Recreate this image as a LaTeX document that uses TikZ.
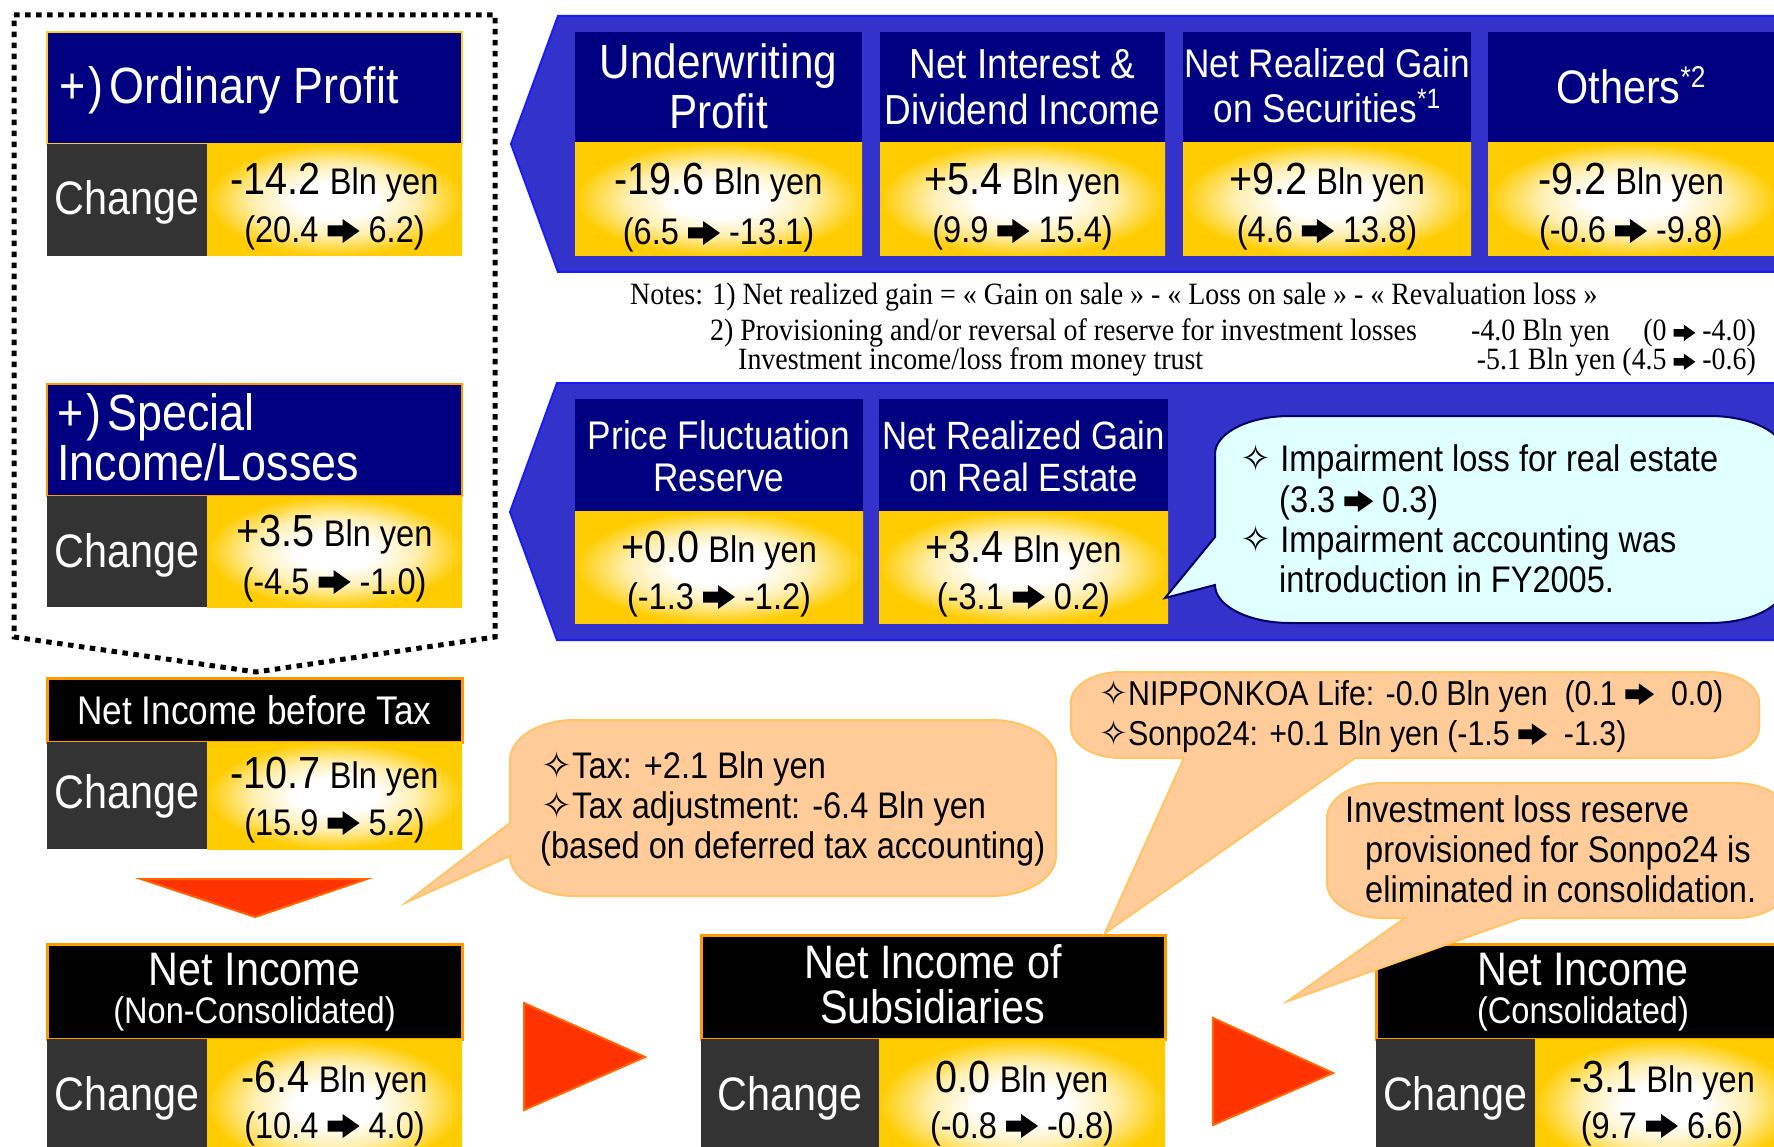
\documentclass[tikz,border=0pt]{standalone}
\usepackage{fontspec}
\usepackage{graphicx}
\setmainfont{Liberation Sans}[FakeStretch=0.88]
\newfontfamily\notefont{Liberation Serif}[FakeStretch=0.9]
\newfontfamily\symfont{DejaVu Sans}
\newcommand\setfs[1]{\fontsize{#1}{#1}\selectfont}
% heavy wide-headed arrow drawn as a small inline picture
\newcommand\arr[1][1]{\tikz[baseline=0pt,x=#1pt,y=#1pt]\fill[black] (0,6.5)--(15,6.5)--(15,0)--(32,12)--(15,24)--(15,17.5)--(0,17.5)--cycle;}
\newcommand\twinkle{{\symfont ✧}}
\newcommand\amount[1]{{\setfs{45}#1} {\setfs{37}Bln yen}}
\newcommand\sups[2]{\raisebox{0.36em}{\setfs{#1}#2}}

\definecolor{navy}{HTML}{000080}
\definecolor{pentblue}{HTML}{3333CC}
\definecolor{edgeblue}{HTML}{1A1AFF}
\definecolor{gold}{HTML}{FFCC00}
\definecolor{paleglow}{HTML}{FFEFB0}
\definecolor{charcoal}{HTML}{333333}
\definecolor{rimorange}{HTML}{FF9900}
\definecolor{rimgold}{HTML}{FFCC33}
\definecolor{peach}{HTML}{FFCC99}
\definecolor{peachrim}{HTML}{FFC466}
\definecolor{icecyan}{HTML}{E0FFFF}
\definecolor{cyanrim}{HTML}{000066}
\definecolor{flame}{HTML}{FF3300}
\definecolor{flamerim}{HTML}{FF6600}

\pgfdeclareradialshading{goldglow}{\pgfpointorigin}{color(0bp)=(white); color(8bp)=(white); color(16bp)=(paleglow); color(25bp)=(gold); color(50bp)=(gold)}

\tikzset{
  lbl/.style={inner sep=0pt, anchor=base},
  wlbl/.style={lbl, text=white},
  head/.style={wlbl, font=\setfs{#1}},
  chg/.style={wlbl, font=\setfs{47}},
  amt/.style={lbl, font=\setfs{37}},
  rng/.style={lbl, font=\setfs{37}},
  calltext/.style={lbl, anchor=base west, font=\setfs{37}},
  notetext/.style={lbl, anchor=base west, font=\notefont\setfs{31}},
  pent/.style={fill=pentblue, draw=edgeblue, line width=2pt},
  navyfill/.style={fill=navy},
  goldbox/.style={shading=goldglow},
  darkbox/.style={fill=charcoal},
  blackhead/.style={fill=black, draw=rimorange, line width=3pt},
  dotframe/.style={draw=black, line width=5pt, dash pattern=on 5.5pt off 5.5pt},
  peachcall/.style={fill=peach, draw=peachrim, line width=2pt},
  cyancall/.style={fill=icecyan, draw=cyanrim, line width=2pt},
  flamearrow/.style={fill=flame, draw=flamerim, line width=2pt, line join=miter}
}

\begin{document}
\begin{tikzpicture}[x=1pt,y=-1pt]
\useasboundingbox (0,0) rectangle (1774,1147);
\fill[white] (0,0) rectangle (1774,1147);
\clip (0,0) rectangle (1774,1147);

% dotted frame around the non-consolidated profit blocks
\draw[dotframe] (14,15) -- (495,15) -- (495,637) -- (256,672) -- (14,637) -- cycle;

% blue pentagons holding the breakdown items
\filldraw[pent] (511,144) -- (558,16) -- (1795,16) -- (1795,272) -- (558,272) -- cycle;
\filldraw[pent] (510,512) -- (557,383) -- (1795,383) -- (1795,640) -- (557,640) -- cycle;

% ---- left column ----
\filldraw[navyfill, draw=rimgold, line width=2pt] (47,32) rectangle (462,144);
\fill[darkbox] (47,144) rectangle (207,256);
\shade[goldbox] (207,144) rectangle (462,256);

\filldraw[navyfill, draw=rimorange, line width=2pt] (47,384) rectangle (462,496);
\fill[darkbox] (47,496) rectangle (207,607);
\shade[goldbox] (207,496) rectangle (462,607);

\filldraw[blackhead] (47,678) rectangle (462,742);
\fill[darkbox] (47,742) rectangle (207,849);
\shade[goldbox] (207,742) rectangle (462,849);

\filldraw[blackhead] (47,944) rectangle (462,1039);
\fill[darkbox] (47,1039) rectangle (207,1170);
\shade[goldbox] (207,1039) rectangle (462,1170);

% ---- top breakdown boxes ----
\fill[navyfill] (575,32) rectangle (862,143);
\shade[goldbox] (575,143) rectangle (862,256);
\fill[navyfill] (880,32) rectangle (1165,143);
\shade[goldbox] (880,143) rectangle (1165,256);
\fill[navyfill] (1183,32) rectangle (1471,143);
\shade[goldbox] (1183,143) rectangle (1471,256);
\fill[navyfill] (1488,32) rectangle (1776,143);
\shade[goldbox] (1488,143) rectangle (1776,256);

% ---- special income breakdown boxes ----
\fill[navyfill] (575,399) rectangle (863,511);
\shade[goldbox] (575,511) rectangle (863,623);
\fill[navyfill] (879,399) rectangle (1168,511);
\shade[goldbox] (879,511) rectangle (1168,623);

% ---- subsidiaries and consolidated ----
\filldraw[blackhead] (701,935) rectangle (1165,1039);
\fill[darkbox] (701,1039) rectangle (879,1170);
\shade[goldbox] (879,1039) rectangle (1165,1170);

\filldraw[blackhead] (1376,944) rectangle (1795,1039);
\fill[darkbox] (1376,1039) rectangle (1535,1170);
\shade[goldbox] (1535,1039) rectangle (1795,1170);

% ---- flow triangles ----
\filldraw[flamearrow] (141,879) -- (367,879) -- (255,917) -- cycle;
\filldraw[flamearrow] (524,1003) -- (645,1057) -- (524,1110) -- cycle;
\filldraw[flamearrow] (1213,1018) -- (1333,1073) -- (1213,1125) -- cycle;

% ---- callouts ----
\filldraw[cyancall] (1215,537) -- (1165,598) -- (1215,585)
  arc[start angle=180,end angle=270,x radius=75pt,y radius=38pt] -- (1710,623)
  arc[start angle=270,end angle=360,x radius=75pt,y radius=38pt] -- (1785,454)
  arc[start angle=0,end angle=90,x radius=75pt,y radius=38pt] -- (1290,416)
  arc[start angle=90,end angle=180,x radius=75pt,y radius=38pt] -- cycle;

\filldraw[peachcall] (510,823) -- (407,902) -- (510,856)
  arc[start angle=180,end angle=270,x radius=65pt,y radius=40pt] -- (991,896)
  arc[start angle=270,end angle=360,x radius=65pt,y radius=40pt] -- (1056,760)
  arc[start angle=0,end angle=90,x radius=65pt,y radius=40pt] -- (575,720)
  arc[start angle=90,end angle=180,x radius=65pt,y radius=40pt] -- cycle;

\filldraw[peachcall] (1184,758) -- (1105,933) -- (1355,758) -- (1709,758)
  arc[start angle=270,end angle=360,x radius=50pt,y radius=30pt] -- (1759,702)
  arc[start angle=0,end angle=90,x radius=50pt,y radius=30pt] -- (1121,672)
  arc[start angle=90,end angle=180,x radius=50pt,y radius=30pt] -- (1071,728)
  arc[start angle=180,end angle=270,x radius=50pt,y radius=30pt] -- cycle;

\filldraw[peachcall] (1405,918) -- (1288,1001) -- (1521,918) -- (1735,918)
  arc[start angle=270,end angle=360,x radius=55pt,y radius=35pt] -- (1790,818)
  arc[start angle=0,end angle=90,x radius=55pt,y radius=35pt] -- (1382,783)
  arc[start angle=90,end angle=180,x radius=55pt,y radius=35pt] -- (1327,883)
  arc[start angle=180,end angle=270,x radius=55pt,y radius=35pt] -- cycle;

% ---- texts: left column ----
\node[head=51, anchor=base west] (ordHead) at (59,104) {+\kern3pt)\kern6pt Ordinary Profit};
\node[chg] (ordChg) at (127,215) {Change};
\node[amt] (ordAmt) at (334.5,195) {\amount{-14.2}};
\node[rng] (ordRng) at (334.5,243) {(20.4 \arr\ 6.2)};

\node[head=51, anchor=base west] (spA) at (57,430) {+\kern3pt)\kern6pt Special};
\node[head=51, anchor=base west] (spB) at (57,480) {Income/Losses};
\node[chg] (spChg) at (127,567) {Change};
\node[amt] (spAmt) at (334.5,546) {\amount{+3.5}};
\node[rng] (spRng) at (334.5,594) {(-4.5 \arr\ -1.0)};

\node[head=40] (btA) at (254.5,724) {Net Income before Tax};
\node[chg] (btChg) at (127,808) {Change};
\node[amt] (btAmt) at (334.5,788) {\amount{-10.7}};
\node[rng] (btRng) at (334.5,835) {(15.9 \arr\ 5.2)};

\node[head=47] (ncA) at (254.5,985) {Net Income};
\node[head=37] (ncB) at (254.5,1023) {(Non-Consolidated)};
\node[chg] (ncChg) at (127,1110) {Change};
\node[amt] (ncAmt) at (334.5,1092) {\amount{-6.4}};
\node[rng] (ncRng) at (334.5,1138) {(10.4 \arr\ 4.0)};

% ---- texts: top breakdown ----
\node[head=48] (uwA) at (718.5,79) {Underwriting};
\node[head=48] (uwB) at (718.5,129) {Profit};
\node[amt] (uwAmt) at (718.5,195) {\amount{-19.6}};
\node[rng] (uwRng) at (718.5,245) {(6.5 \arr\ -13.1)};

\node[head=42] (niA) at (1022.5,79) {Net Interest \&};
\node[head=42] (niB) at (1022.5,125) {Dividend Income};
\node[amt] (niAmt) at (1022.5,195) {\amount{+5.4}};
\node[rng] (niRng) at (1022.5,243) {(9.9 \arr\ 15.4)};

\node[head=40] (nrA) at (1327,78) {Net Realized Gain};
\node[head=40] (nrB) at (1327,123) {on Securities\sups{28}{*1}};
\node[amt] (nrAmt) at (1327,195) {\amount{+9.2}};
\node[rng] (nrRng) at (1327,243) {(4.6 \arr\ 13.8)};

\node[head=47] (otA) at (1631,104) {Others\sups{30}{*2}};
\node[amt] (otAmt) at (1631,195) {\amount{-9.2}};
\node[rng] (otRng) at (1631,243) {(-0.6 \arr\ -9.8)};

% ---- notes ----
\node[notetext] (noteA) at (630,305) {Notes: 1) Net realized gain = « Gain on sale » - « Loss on sale » - « Revaluation loss »};
\node[notetext] (noteB) at (710,341) {2) Provisioning and/or reversal of reserve for investment losses};
\node[notetext] (noteC) at (738,370) {Investment income/loss from money trust};
\node[notetext] (noteBv) at (1471,341) {-4.0 Bln yen};
\node[notetext, anchor=base east] (noteBr) at (1756,341) {(0 \arr[0.68]\ -4.0)};
\node[notetext, anchor=base east] (noteCv) at (1756,370) {-5.1 Bln yen (4.5 \arr[0.68]\ -0.6)};

% ---- texts: special income breakdown ----
\node[head=40] (pfA) at (719,449) {Price Fluctuation};
\node[head=40] (pfB) at (719,491) {Reserve};
\node[amt] (pfAmt) at (719,562) {\amount{+0.0}};
\node[rng] (pfRng) at (719,609) {(-1.3 \arr\ -1.2)};

\node[head=39.5] (reA) at (1023.5,449) {Net Realized Gain};
\node[head=39.5] (reB) at (1023.5,491) {on Real Estate};
\node[amt] (reAmt) at (1023.5,562) {\amount{+3.4}};
\node[rng] (reRng) at (1023.5,609) {(-3.1 \arr\ 0.2)};

\node[calltext] (impA) at (1240,471) {\twinkle\ Impairment loss for real estate};
\node[calltext] (impB) at (1279,512) {(3.3 \arr[0.9]\ 0.3)};
\node[calltext] (impC) at (1240,552) {\twinkle\ Impairment accounting was};
\node[calltext] (impD) at (1279,592) {introduction in FY2005.};

% ---- texts: callouts ----
\node[calltext] (taxA) at (541,778) {\twinkle Tax: +2.1 Bln yen};
\node[calltext] (taxB) at (541,818) {\twinkle Tax adjustment: -6.4 Bln yen};
\node[calltext] (taxC) at (540,858) {(based on deferred tax accounting)};

\node[calltext, font=\setfs{34.5}] (nkA) at (1099,705) {\twinkle NIPPONKOA Life: -0.0 Bln yen\ \ (0.1 \arr[0.9]\ \ 0.0)};
\node[calltext, font=\setfs{34.5}] (nkB) at (1099,745) {\twinkle Sonpo24: +0.1 Bln yen (-1.5 \arr[0.9]\ \ -1.3)};

\node[calltext] (ivA) at (1345,822) {Investment loss reserve};
\node[calltext] (ivB) at (1365,862) {provisioned for Sonpo24 is};
\node[calltext] (ivC) at (1365,902) {eliminated in consolidation.};

% ---- texts: subsidiaries and consolidated ----
\node[head=47] (sbA) at (933,978) {Net Income of};
\node[head=47] (sbB) at (933,1023) {Subsidiaries};
\node[chg] (sbChg) at (790,1110) {Change};
\node[amt] (sbAmt) at (1022,1092) {\amount{0.0}};
\node[rng] (sbRng) at (1022,1138) {(-0.8 \arr\ -0.8)};

\node[head=47] (csA) at (1583,985) {Net Income};
\node[head=37] (csB) at (1583,1023) {(Consolidated)};
\node[chg] (csChg) at (1455.5,1110) {Change};
\node[amt] (csAmt) at (1662,1092) {\amount{-3.1}};
\node[rng] (csRng) at (1662,1138) {(9.7 \arr\ 6.6)};
\end{tikzpicture}
\end{document}
